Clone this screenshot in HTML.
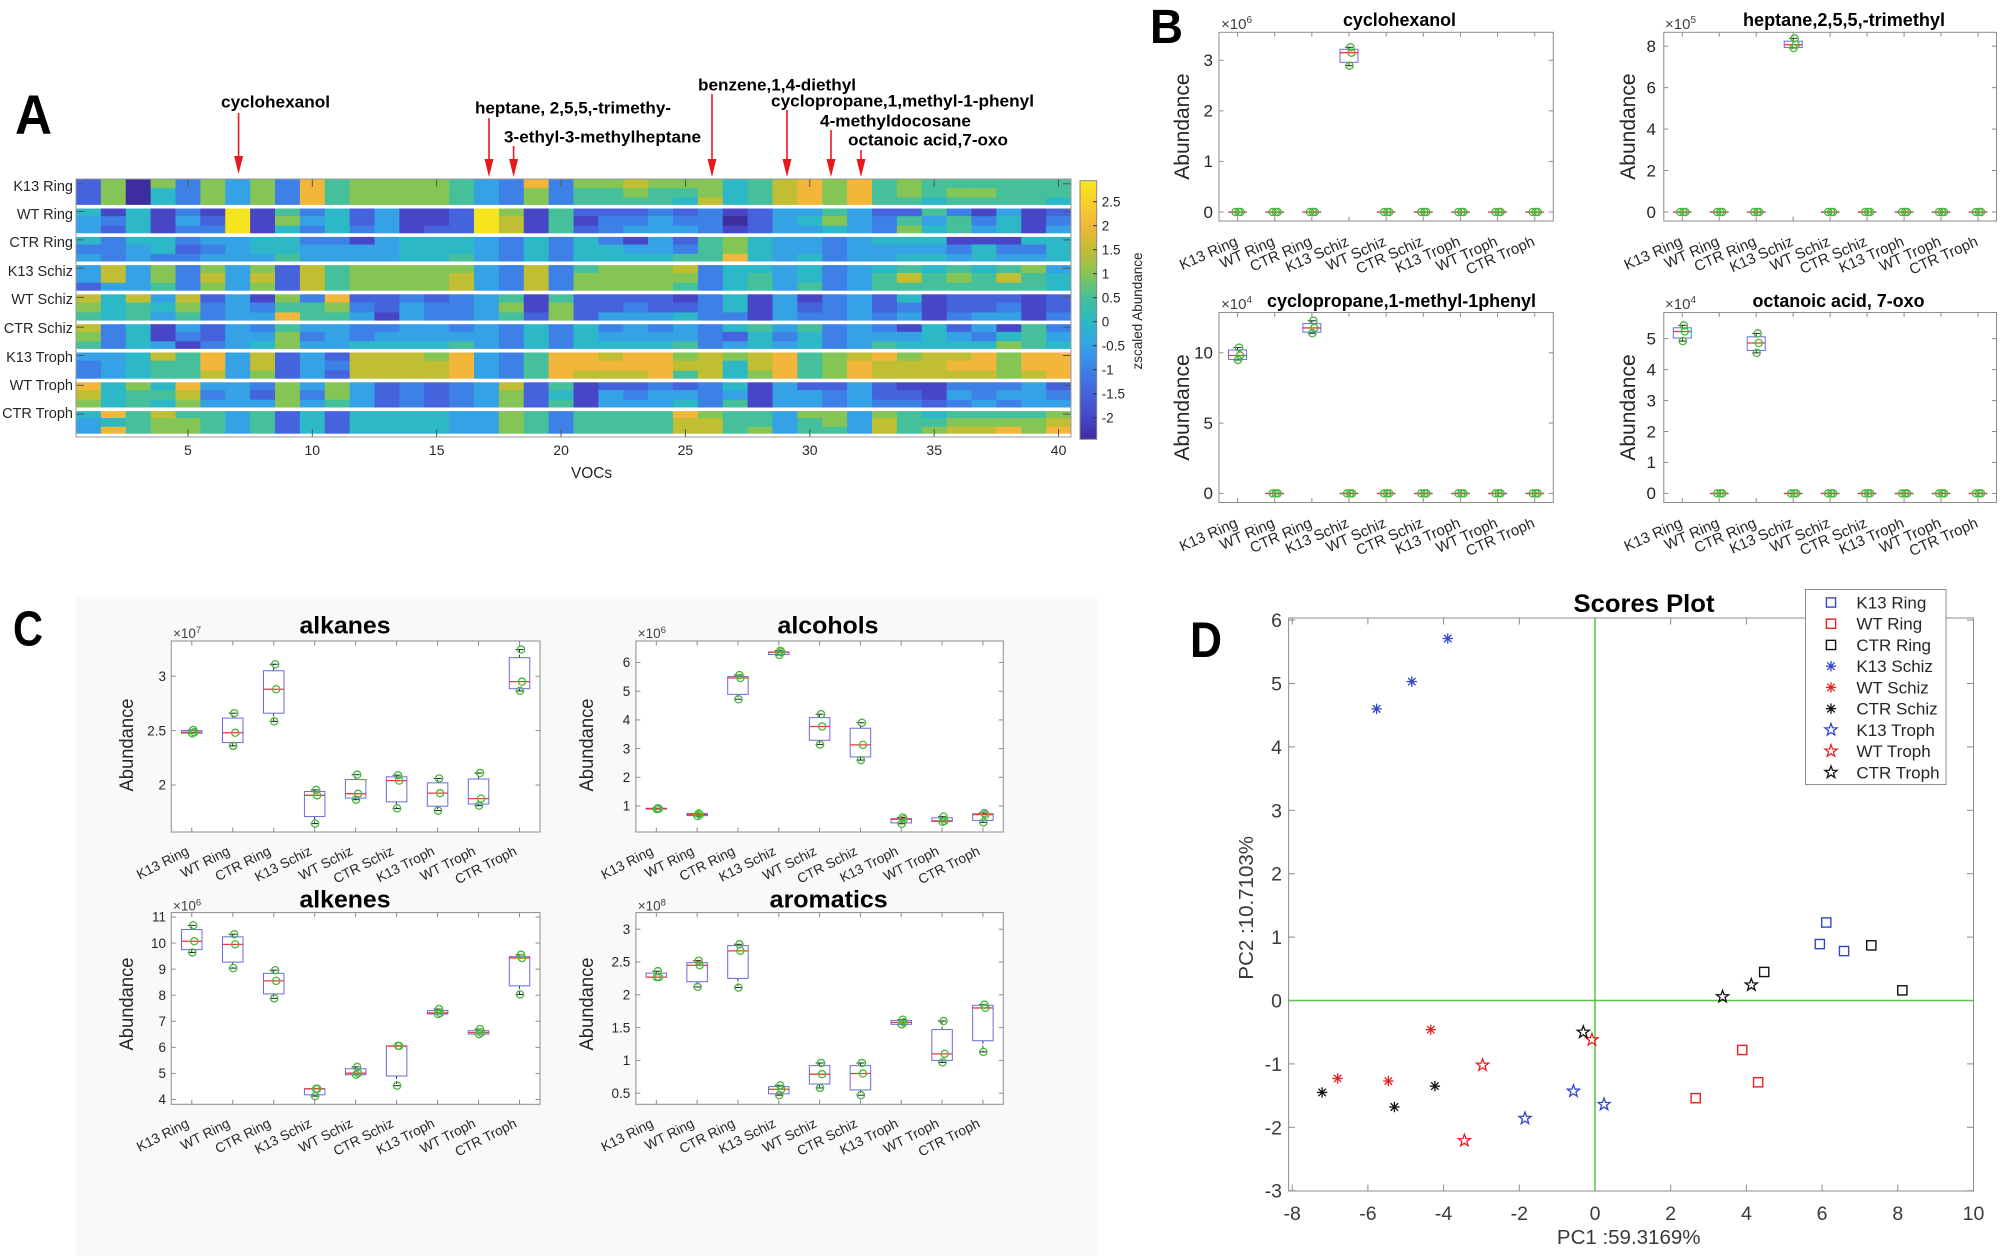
<!DOCTYPE html>
<html><head><meta charset="utf-8">
<style>
html,body{margin:0;padding:0;background:#fff;}
svg{display:block;}
text{font-family:"Liberation Sans",Arial,sans-serif;}
.bd{font-weight:bold;fill:#000;}
.rl{font-size:14.5px;fill:#262626;}
.xt{font-size:14px;fill:#262626;}
.cbt{font-size:13.5px;fill:#262626;}
.bt{font-size:17px;fill:#262626;}
.bx{font-size:15px;fill:#404040;}
.cb{font-size:15px;fill:#262626;}
.yl{font-size:21px;fill:#262626;}
.ct{font-size:13.5px;fill:#262626;}
.cc{font-size:13.7px;fill:#262626;}
.cy{font-size:19px;fill:#262626;}
.dt{font-size:19.5px;fill:#3a3a3a;}
.dl{font-size:17px;fill:#262626;}
</style></head><body>
<svg id="s" width="2000" height="1256" viewBox="0 0 2000 1256" xmlns="http://www.w3.org/2000/svg">
<defs>
<linearGradient id="cbg" x1="0" y1="0" x2="0" y2="1">
<stop offset="0" stop-color="#f6e81c"/>
<stop offset="0.082" stop-color="#f9d02a"/>
<stop offset="0.174" stop-color="#f2b73a"/>
<stop offset="0.267" stop-color="#c0be32"/>
<stop offset="0.360" stop-color="#85c556"/>
<stop offset="0.453" stop-color="#45c09a"/>
<stop offset="0.545" stop-color="#2cb8c6"/>
<stop offset="0.638" stop-color="#36a2e6"/>
<stop offset="0.731" stop-color="#3d80e6"/>
<stop offset="0.824" stop-color="#4563dc"/>
<stop offset="0.917" stop-color="#4646c6"/>
<stop offset="1" stop-color="#3d2d9e"/>
</linearGradient>
</defs>
<rect width="2000" height="1256" fill="#fff"/>
<rect x="76" y="597" width="1022" height="659" fill="#f9f9f9"/>
<g id="gfx"></g>

<!-- ============ PANEL A ============ -->
<text x="15" y="134" class="bd" font-size="56" textLength="37" lengthAdjust="spacingAndGlyphs">A</text>
<g class="bd" font-size="17">
<text x="221" y="107.5" textLength="109" lengthAdjust="spacingAndGlyphs">cyclohexanol</text>
<text x="475" y="113.5" textLength="196" lengthAdjust="spacingAndGlyphs">heptane, 2,5,5,-trimethy-</text>
<text x="504" y="142.5" textLength="197" lengthAdjust="spacingAndGlyphs">3-ethyl-3-methylheptane</text>
<text x="698" y="90.5" textLength="158" lengthAdjust="spacingAndGlyphs">benzene,1,4-diethyl</text>
<text x="771" y="106.5" textLength="263" lengthAdjust="spacingAndGlyphs">cyclopropane,1,methyl-1-phenyl</text>
<text x="820" y="126.5" textLength="151" lengthAdjust="spacingAndGlyphs">4-methyldocosane</text>
<text x="848" y="145.5" textLength="160" lengthAdjust="spacingAndGlyphs">octanoic acid,7-oxo</text>
</g>
<g stroke="#e41a1c" stroke-width="1.6">
<line x1="238.6" y1="113" x2="238.6" y2="160"/>
<line x1="489" y1="118" x2="489" y2="162"/>
<line x1="513.6" y1="146" x2="513.6" y2="162"/>
<line x1="712" y1="94" x2="712" y2="162"/>
<line x1="787" y1="110" x2="787" y2="162"/>
<line x1="831" y1="130" x2="831" y2="162"/>
<line x1="861" y1="150" x2="861" y2="162"/>
</g>
<g fill="#e41a1c">
<polygon points="234.1,156 243.1,156 238.6,174"/>
<polygon points="484.5,159 493.5,159 489,177"/>
<polygon points="509.1,159 518.1,159 513.6,177"/>
<polygon points="707.5,159 716.5,159 712,177"/>
<polygon points="782.5,159 791.5,159 787,177"/>
<polygon points="826.5,159 835.5,159 831,177"/>
<polygon points="856.5,159 865.5,159 861,177"/>
</g>
<g class="rl" text-anchor="end">
<text x="73" y="191">K13 Ring</text>
<text x="73" y="219">WT Ring</text>
<text x="73" y="247">CTR Ring</text>
<text x="73" y="276">K13 Schiz</text>
<text x="73" y="304">WT Schiz</text>
<text x="73" y="333">CTR Schiz</text>
<text x="73" y="362">K13 Troph</text>
<text x="73" y="390">WT Troph</text>
<text x="73" y="418">CTR Troph</text>
</g>
<g class="xt" text-anchor="middle">
<text x="187.9" y="455">5</text>
<text x="312.3" y="455">10</text>
<text x="436.7" y="455">15</text>
<text x="561.1" y="455">20</text>
<text x="685.4" y="455">25</text>
<text x="809.8" y="455">30</text>
<text x="934.2" y="455">35</text>
<text x="1058.6" y="455">40</text>
</g>
<text x="591.5" y="478" text-anchor="middle" font-size="15.4" fill="#262626">VOCs</text>
<rect x="1080" y="180.7" width="16.7" height="258.6" fill="url(#cbg)" stroke="#888" stroke-width="1"/>
<g stroke="#333" stroke-width="1">
<line x1="1093" y1="201.7" x2="1096.7" y2="201.7"/><line x1="1093" y1="225.7" x2="1096.7" y2="225.7"/>
<line x1="1093" y1="249.7" x2="1096.7" y2="249.7"/><line x1="1093" y1="273.7" x2="1096.7" y2="273.7"/>
<line x1="1093" y1="297.7" x2="1096.7" y2="297.7"/><line x1="1093" y1="321.7" x2="1096.7" y2="321.7"/>
<line x1="1093" y1="345.7" x2="1096.7" y2="345.7"/><line x1="1093" y1="369.7" x2="1096.7" y2="369.7"/>
<line x1="1093" y1="393.7" x2="1096.7" y2="393.7"/><line x1="1093" y1="417.7" x2="1096.7" y2="417.7"/>
</g>
<g class="cbt">
<text x="1101.7" y="206.4">2.5</text>
<text x="1101.7" y="230.4">2</text>
<text x="1101.7" y="254.4">1.5</text>
<text x="1101.7" y="278.4">1</text>
<text x="1101.7" y="302.4">0.5</text>
<text x="1101.7" y="326.4">0</text>
<text x="1101.7" y="350.4">-0.5</text>
<text x="1101.7" y="374.4">-1</text>
<text x="1101.7" y="398.4">-1.5</text>
<text x="1101.7" y="422.4">-2</text>
</g>
<text transform="translate(1142,311) rotate(-90)" text-anchor="middle" font-size="13.5" fill="#262626">zscaled Abundance</text>

<!-- ============ PANEL B ============ -->
<text x="1150" y="43" class="bd" font-size="48" textLength="33" lengthAdjust="spacingAndGlyphs">B</text>
<!-- TL -->
<text x="1399.5" y="26" class="bd" font-size="18" text-anchor="middle" textLength="113" lengthAdjust="spacingAndGlyphs">cyclohexanol</text>
<text x="1221" y="29" class="bx">×10<tspan dy="-6" font-size="10">6</tspan></text>
<g class="bt" text-anchor="end">
<text x="1213" y="217.8">0</text><text x="1213" y="167.2">1</text><text x="1213" y="116.7">2</text><text x="1213" y="66.1">3</text>
</g>
<text transform="translate(1189,126.6) rotate(-90)" text-anchor="middle" class="yl">Abundance</text>
<g class="cb" text-anchor="end">
<text transform="translate(1238.6,245) rotate(-24)">K13 Ring</text>
<text transform="translate(1275.7,245) rotate(-24)">WT Ring</text>
<text transform="translate(1312.9,245) rotate(-24)">CTR Ring</text>
<text transform="translate(1350.0,245) rotate(-24)">K13 Schiz</text>
<text transform="translate(1387.2,245) rotate(-24)">WT Schiz</text>
<text transform="translate(1424.3,245) rotate(-24)">CTR Schiz</text>
<text transform="translate(1461.4,245) rotate(-24)">K13 Troph</text>
<text transform="translate(1498.6,245) rotate(-24)">WT Troph</text>
<text transform="translate(1535.7,245) rotate(-24)">CTR Troph</text>
</g>
<!-- TR -->
<text x="1844" y="26" class="bd" font-size="18" text-anchor="middle" textLength="202" lengthAdjust="spacingAndGlyphs">heptane,2,5,5,-trimethyl</text>
<text x="1665" y="29" class="bx">×10<tspan dy="-6" font-size="10">5</tspan></text>
<g class="bt" text-anchor="end">
<text x="1656" y="217.8">0</text><text x="1656" y="176.3">2</text><text x="1656" y="134.9">4</text><text x="1656" y="93.4">6</text><text x="1656" y="52">8</text>
</g>
<text transform="translate(1635,126.6) rotate(-90)" text-anchor="middle" class="yl">Abundance</text>
<g class="cb" text-anchor="end">
<text transform="translate(1683.3,245) rotate(-24)">K13 Ring</text>
<text transform="translate(1720.3,245) rotate(-24)">WT Ring</text>
<text transform="translate(1757.2,245) rotate(-24)">CTR Ring</text>
<text transform="translate(1794.2,245) rotate(-24)">K13 Schiz</text>
<text transform="translate(1831.2,245) rotate(-24)">WT Schiz</text>
<text transform="translate(1868.1,245) rotate(-24)">CTR Schiz</text>
<text transform="translate(1905.1,245) rotate(-24)">K13 Troph</text>
<text transform="translate(1942.1,245) rotate(-24)">WT Troph</text>
<text transform="translate(1979.0,245) rotate(-24)">CTR Troph</text>
</g>
<!-- BL -->
<text x="1401.5" y="307" class="bd" font-size="18" text-anchor="middle" textLength="269" lengthAdjust="spacingAndGlyphs">cyclopropane,1-methyl-1phenyl</text>
<text x="1221" y="309" class="bx">×10<tspan dy="-6" font-size="10">4</tspan></text>
<g class="bt" text-anchor="end">
<text x="1213" y="499.2">0</text><text x="1213" y="428.9">5</text><text x="1213" y="358.6">10</text>
</g>
<text transform="translate(1189,407.5) rotate(-90)" text-anchor="middle" class="yl">Abundance</text>
<g class="cb" text-anchor="end">
<text transform="translate(1238.6,526.5) rotate(-24)">K13 Ring</text>
<text transform="translate(1275.7,526.5) rotate(-24)">WT Ring</text>
<text transform="translate(1312.9,526.5) rotate(-24)">CTR Ring</text>
<text transform="translate(1350.0,526.5) rotate(-24)">K13 Schiz</text>
<text transform="translate(1387.2,526.5) rotate(-24)">WT Schiz</text>
<text transform="translate(1424.3,526.5) rotate(-24)">CTR Schiz</text>
<text transform="translate(1461.4,526.5) rotate(-24)">K13 Troph</text>
<text transform="translate(1498.6,526.5) rotate(-24)">WT Troph</text>
<text transform="translate(1535.7,526.5) rotate(-24)">CTR Troph</text>
</g>
<!-- BR -->
<text x="1838.5" y="307" class="bd" font-size="18" text-anchor="middle" textLength="172" lengthAdjust="spacingAndGlyphs">octanoic acid, 7-oxo</text>
<text x="1665" y="309" class="bx">×10<tspan dy="-6" font-size="10">4</tspan></text>
<g class="bt" text-anchor="end">
<text x="1656" y="499.2">0</text><text x="1656" y="468.2">1</text><text x="1656" y="437.3">2</text><text x="1656" y="406.3">3</text><text x="1656" y="375.4">4</text><text x="1656" y="344.4">5</text>
</g>
<text transform="translate(1635,407.5) rotate(-90)" text-anchor="middle" class="yl">Abundance</text>
<g class="cb" text-anchor="end">
<text transform="translate(1683.3,526.5) rotate(-24)">K13 Ring</text>
<text transform="translate(1720.3,526.5) rotate(-24)">WT Ring</text>
<text transform="translate(1757.2,526.5) rotate(-24)">CTR Ring</text>
<text transform="translate(1794.2,526.5) rotate(-24)">K13 Schiz</text>
<text transform="translate(1831.2,526.5) rotate(-24)">WT Schiz</text>
<text transform="translate(1868.1,526.5) rotate(-24)">CTR Schiz</text>
<text transform="translate(1905.1,526.5) rotate(-24)">K13 Troph</text>
<text transform="translate(1942.1,526.5) rotate(-24)">WT Troph</text>
<text transform="translate(1979.0,526.5) rotate(-24)">CTR Troph</text>
</g>

<!-- ============ PANEL C ============ -->
<text x="13" y="645.5" class="bd" font-size="49" textLength="30" lengthAdjust="spacingAndGlyphs">C</text>
<!-- alkanes -->
<text x="345" y="633.7" class="bd" font-size="24.5" text-anchor="middle" textLength="91" lengthAdjust="spacingAndGlyphs">alkanes</text>
<text x="173" y="638" font-size="13.5" fill="#404040">×10<tspan dy="-5" font-size="9.5">7</tspan></text>
<g class="ct" text-anchor="end">
<text x="166" y="789.7">2</text><text x="166" y="735.3">2.5</text><text x="166" y="680.9">3</text>
</g>
<text transform="translate(133,745) rotate(-90)" text-anchor="middle" class="cy" textLength="93" lengthAdjust="spacingAndGlyphs">Abundance</text>
<g class="cc" text-anchor="end">
<text transform="translate(189.8,854) rotate(-27)">K13 Ring</text>
<text transform="translate(230.8,854) rotate(-27)">WT Ring</text>
<text transform="translate(271.7,854) rotate(-27)">CTR Ring</text>
<text transform="translate(312.7,854) rotate(-27)">K13 Schiz</text>
<text transform="translate(353.7,854) rotate(-27)">WT Schiz</text>
<text transform="translate(394.6,854) rotate(-27)">CTR Schiz</text>
<text transform="translate(435.6,854) rotate(-27)">K13 Troph</text>
<text transform="translate(476.6,854) rotate(-27)">WT Troph</text>
<text transform="translate(517.6,854) rotate(-27)">CTR Troph</text>
</g>
<!-- alkenes -->
<text x="345" y="907.5" class="bd" font-size="24.5" text-anchor="middle" textLength="91" lengthAdjust="spacingAndGlyphs">alkenes</text>
<text x="173" y="910.4" font-size="13.5" fill="#404040">×10<tspan dy="-5" font-size="9.5">6</tspan></text>
<g class="ct" text-anchor="end">
<text x="166" y="1104.2">4</text><text x="166" y="1078.1">5</text><text x="166" y="1052.1">6</text><text x="166" y="1026">7</text>
<text x="166" y="999.9">8</text><text x="166" y="973.9">9</text><text x="166" y="947.8">10</text><text x="166" y="921.7">11</text>
</g>
<text transform="translate(133,1004) rotate(-90)" text-anchor="middle" class="cy" textLength="93" lengthAdjust="spacingAndGlyphs">Abundance</text>
<g class="cc" text-anchor="end">
<text transform="translate(189.8,1126.3) rotate(-27)">K13 Ring</text>
<text transform="translate(230.8,1126.3) rotate(-27)">WT Ring</text>
<text transform="translate(271.7,1126.3) rotate(-27)">CTR Ring</text>
<text transform="translate(312.7,1126.3) rotate(-27)">K13 Schiz</text>
<text transform="translate(353.7,1126.3) rotate(-27)">WT Schiz</text>
<text transform="translate(394.6,1126.3) rotate(-27)">CTR Schiz</text>
<text transform="translate(435.6,1126.3) rotate(-27)">K13 Troph</text>
<text transform="translate(476.6,1126.3) rotate(-27)">WT Troph</text>
<text transform="translate(517.6,1126.3) rotate(-27)">CTR Troph</text>
</g>
<!-- alcohols -->
<text x="828" y="633.7" class="bd" font-size="24.5" text-anchor="middle" textLength="101" lengthAdjust="spacingAndGlyphs">alcohols</text>
<text x="637.7" y="638" font-size="13.5" fill="#404040">×10<tspan dy="-5" font-size="9.5">6</tspan></text>
<g class="ct" text-anchor="end">
<text x="630.3" y="810.7">1</text><text x="630.3" y="782">2</text><text x="630.3" y="753.3">3</text>
<text x="630.3" y="724.6">4</text><text x="630.3" y="695.9">5</text><text x="630.3" y="667.2">6</text>
</g>
<text transform="translate(593,745) rotate(-90)" text-anchor="middle" class="cy" textLength="93" lengthAdjust="spacingAndGlyphs">Abundance</text>
<g class="cc" text-anchor="end">
<text transform="translate(654.3,854) rotate(-27)">K13 Ring</text>
<text transform="translate(695.1,854) rotate(-27)">WT Ring</text>
<text transform="translate(735.9,854) rotate(-27)">CTR Ring</text>
<text transform="translate(776.8,854) rotate(-27)">K13 Schiz</text>
<text transform="translate(817.6,854) rotate(-27)">WT Schiz</text>
<text transform="translate(858.4,854) rotate(-27)">CTR Schiz</text>
<text transform="translate(899.2,854) rotate(-27)">K13 Troph</text>
<text transform="translate(940.0,854) rotate(-27)">WT Troph</text>
<text transform="translate(980.9,854) rotate(-27)">CTR Troph</text>
</g>
<!-- aromatics -->
<text x="828.7" y="907.5" class="bd" font-size="24.5" text-anchor="middle" textLength="118" lengthAdjust="spacingAndGlyphs">aromatics</text>
<text x="637.7" y="910.4" font-size="13.5" fill="#404040">×10<tspan dy="-5" font-size="9.5">8</tspan></text>
<g class="ct" text-anchor="end">
<text x="630.3" y="1097.9">0.5</text><text x="630.3" y="1065.1">1</text><text x="630.3" y="1032.3">1.5</text>
<text x="630.3" y="999.5">2</text><text x="630.3" y="966.7">2.5</text><text x="630.3" y="933.9">3</text>
</g>
<text transform="translate(593,1004) rotate(-90)" text-anchor="middle" class="cy" textLength="93" lengthAdjust="spacingAndGlyphs">Abundance</text>
<g class="cc" text-anchor="end">
<text transform="translate(654.3,1126.3) rotate(-27)">K13 Ring</text>
<text transform="translate(695.1,1126.3) rotate(-27)">WT Ring</text>
<text transform="translate(735.9,1126.3) rotate(-27)">CTR Ring</text>
<text transform="translate(776.8,1126.3) rotate(-27)">K13 Schiz</text>
<text transform="translate(817.6,1126.3) rotate(-27)">WT Schiz</text>
<text transform="translate(858.4,1126.3) rotate(-27)">CTR Schiz</text>
<text transform="translate(899.2,1126.3) rotate(-27)">K13 Troph</text>
<text transform="translate(940.0,1126.3) rotate(-27)">WT Troph</text>
<text transform="translate(980.9,1126.3) rotate(-27)">CTR Troph</text>
</g>

<!-- ============ PANEL D ============ -->
<text x="1190" y="657" class="bd" font-size="50" textLength="32" lengthAdjust="spacingAndGlyphs">D</text>
<text x="1644" y="612" class="bd" font-size="25" text-anchor="middle" textLength="141" lengthAdjust="spacingAndGlyphs">Scores Plot</text>
<g class="dt" text-anchor="end">
<text x="1282" y="627.1">6</text><text x="1282" y="690.5">5</text><text x="1282" y="753.9">4</text>
<text x="1282" y="817.3">3</text><text x="1282" y="880.7">2</text><text x="1282" y="944.1">1</text>
<text x="1282" y="1007.5">0</text><text x="1282" y="1070.9">-1</text><text x="1282" y="1134.3">-2</text>
<text x="1282" y="1197.7">-3</text>
</g>
<g class="dt" text-anchor="middle">
<text x="1292.2" y="1220">-8</text><text x="1367.9" y="1220">-6</text><text x="1443.6" y="1220">-4</text>
<text x="1519.3" y="1220">-2</text><text x="1595" y="1220">0</text><text x="1670.7" y="1220">2</text>
<text x="1746.4" y="1220">4</text><text x="1822.1" y="1220">6</text><text x="1897.8" y="1220">8</text>
<text x="1973.5" y="1220">10</text>
</g>
<text x="1628.7" y="1244" text-anchor="middle" font-size="20.5" fill="#3a3a3a">PC1 :59.3169%</text>
<text transform="translate(1253,907.8) rotate(-90)" text-anchor="middle" font-size="20.5" fill="#3a3a3a">PC2 :10.7103%</text>
<g class="dl">
<text x="1856.4" y="608.5">K13 Ring</text>
<text x="1856.4" y="629.7">WT Ring</text>
<text x="1856.4" y="651">CTR Ring</text>
<text x="1856.4" y="672.2">K13 Schiz</text>
<text x="1856.4" y="693.4">WT Schiz</text>
<text x="1856.4" y="714.6">CTR Schiz</text>
<text x="1856.4" y="735.9">K13 Troph</text>
<text x="1856.4" y="757.1">WT Troph</text>
<text x="1856.4" y="778.3">CTR Troph</text>
</g>
</svg>
<script>
(function(){
var NS='http://www.w3.org/2000/svg';
var G=document.getElementById('gfx');
function el(t,a){var e=document.createElementNS(NS,t);for(var k in a)e.setAttribute(k,a[k]);G.appendChild(e);return e;}

/* ---------- heatmap ---------- */
var R=[
"2707374739"+"6777764393"+"7787775689"+"7967666666",
"2705374739"+"6777764373"+"6676675689"+"7967677666",
"2705374739"+"6777764373"+"6666585689"+"7966566665",
"515131Y163"+"524112Y716"+"2223231244"+"6422631412",
"435142Y174"+"524112Y816"+"1334330245"+"7436463513",
"425133Y153"+"534122Y816"+"2344431244"+"5437564514",
"5355344553"+"3145554353"+"5314267544"+"3455511155",
"3345234554"+"4445554353"+"5544367544"+"3444435335",
"4343344464"+"4445564353"+"5555669545"+"3445545445",
"4847374728"+"6777774383"+"6777835545"+"3456565674",
"4847384828"+"6777784383"+"7777735645"+"3468676865",
"2446374728"+"6777784383"+"7777635646"+"3466666665",
"8584824173"+"9223234616"+"2222135141"+"3425122212",
"7565734366"+"7324334717"+"2232235142"+"3423122312",
"6564634496"+"6414334627"+"2444533143"+"3434134413",
"8351424364"+"4334434353"+"5343435646"+"3431524163",
"7351324473"+"4344444353"+"5444432535"+"3444543564",
"6354134574"+"4555564353"+"5555634545"+"3465555765",
"4458694824"+"2888794369"+"9899787896"+"7897889799",
"3456694824"+"3888894369"+"9999885896"+"7988899799",
"3456684724"+"2888894369"+"8889685796"+"7988888789",
"9575944374"+"7423234826"+"1223235142"+"2421133342",
"8566834273"+"7423234725"+"1434434144"+"3422143443",
"7565744474"+"6423234726"+"1444536144"+"3433234344",
"5968664625"+"2555544763"+"6666976647"+"7476566667",
"4567764625"+"2555544763"+"6666886646"+"7486677778",
"4967764625"+"2555544763"+"6666886746"+"6486788979"];
var C={'0':'#3d2d9e','1':'#4646c6','2':'#4563dc','3':'#3d80e6','4':'#36a2e6','5':'#2cb8c6','6':'#45c09a','7':'#85c556','8':'#c0be32','9':'#f2b73a','Y':'#f5e51f'};
var GB=[179,206.7,235.1,263.3,292.5,322.4,350.7,380.5,409.3,435.5];
var cw=24.875;
for(var g=0;g<9;g++){
  var h=(GB[g+1]-GB[g])/3;
  for(var s=0;s<3;s++){
    var row=R[g*3+s], y=GB[g]+s*h;
    for(var c=0;c<40;c++){
      el('rect',{x:76+c*cw,y:y,width:(c==39?cw:cw+0.6),height:h+0.6,fill:C[row.charAt(c)]});
    }
  }
}
for(var g=1;g<=9;g++){el('rect',{x:76,y:GB[g]-1.8,width:995,height:3.6,fill:'#fff'});}
el('rect',{x:76,y:437,width:995,height:2,fill:'#fff'});
for(var k=5;k<=40;k+=5){var x=76+(k-0.5)*cw;
  el('line',{x1:x,y1:179,x2:x,y2:187,stroke:'#555','stroke-width':1});
  el('line',{x1:x,y1:437,x2:x,y2:429,stroke:'#555','stroke-width':1});}
for(var g=0;g<9;g++){var y=GB[g]+4.8;
  el('line',{x1:76,y1:y,x2:84,y2:y,stroke:'#555','stroke-width':1});
  el('line',{x1:1071,y1:y,x2:1063,y2:y,stroke:'#555','stroke-width':1});}
el('rect',{x:76,y:179,width:995,height:258,fill:'none',stroke:'#999','stroke-width':1});

/* ---------- boxplots ---------- */
function ax(o){
  var x0=o.x0,x1=o.x1,y0=o.y0,y1=o.y1,st=(x1-x0)/9,F=o.f,tk='#8c8c8c';
  el('rect',{x:x0,y:y0,width:x1-x0,height:y1-y0,fill:'#fff'});
  o.yt.forEach(function(v){var y=F(v);
    el('line',{x1:x0,y1:y,x2:x0+4.5,y2:y,stroke:tk,'stroke-width':1});
    el('line',{x1:x1,y1:y,x2:x1-4.5,y2:y,stroke:tk,'stroke-width':1});});
  for(var i=0;i<9;i++){var x=x0+(i+.5)*st;
    el('line',{x1:x,y1:y1,x2:x,y2:y1-4.5,stroke:tk,'stroke-width':1});
    el('line',{x1:x,y1:y0,x2:x,y2:y0+4.5,stroke:tk,'stroke-width':1});}
  o.d.forEach(function(d,i){
    var cx=x0+(i+.5)*st,bw=o.bw,hw=bw/2,mn,q1,md,q3,mx;
    if(d===0){mn=q1=md=q3=mx=0;}else{mn=d[0];q1=d[1];md=d[2];q3=d[3];mx=d[4];}
    el('line',{x1:cx,y1:F(q3),x2:cx,y2:F(mx),stroke:'#000','stroke-width':.8,'stroke-dasharray':'3,2'});
    el('line',{x1:cx,y1:F(q1),x2:cx,y2:F(mn),stroke:'#000','stroke-width':.8,'stroke-dasharray':'3,2'});
    el('line',{x1:cx-4,y1:F(mx),x2:cx+4,y2:F(mx),stroke:'#222','stroke-width':1});
    el('line',{x1:cx-4,y1:F(mn),x2:cx+4,y2:F(mn),stroke:'#222','stroke-width':1});
    el('rect',{x:cx-hw,y:F(q3),width:bw,height:Math.max(F(q1)-F(q3),0.3),fill:'none',stroke:'#6a6ae0','stroke-width':1});
    el('line',{x1:cx-hw,y1:F(md),x2:cx+hw,y2:F(md),stroke:'#ee3a3a','stroke-width':1.3});
    var pts=[mx,md,mn],jit=(d===0?[-2,1,3]:[1.5,2.5,0.5]);
    pts.forEach(function(p,k){el('circle',{cx:cx+jit[k],cy:F(p),r:3.6,fill:'none',stroke:'#46b83c','stroke-width':1.3});});
  });
  el('rect',{x:x0,y:y0,width:x1-x0,height:y1-y0,fill:'none',stroke:tk,'stroke-width':1});
}
var z=0;
/* Panel B */
ax({x0:1219,x1:1553.3,y0:32.3,y1:221,bw:18,yt:[0,1,2,3],f:function(v){return 212-50.57*v;},
  d:[z,z,z,[2.893,2.96,3.15,3.217,3.257],z,z,z,z,z]});
ax({x0:1663.8,x1:1996.5,y0:32.3,y1:221,bw:18,yt:[0,2,4,6,8],f:function(v){return 212-20.73*v;},
  d:[z,z,z,[7.91,7.94,8.07,8.24,8.38],z,z,z,z,z]});
ax({x0:1219,x1:1553.3,y0:312.5,y1:502.5,bw:18,yt:[0,5,10],f:function(v){return 493.4-14.06*v;},
  d:[[9.49,9.53,9.81,10.2,10.37],z,[11.39,11.47,11.77,12.08,12.28],z,z,z,z,z,z]});
ax({x0:1663.8,x1:1996.5,y0:312.5,y1:502.5,bw:18,yt:[0,1,2,3,4,5],f:function(v){return 493.4-30.95*v;},
  d:[[4.92,5.02,5.23,5.35,5.43],z,[4.54,4.62,4.86,5.06,5.17],z,z,z,z,z,z]});
/* Panel C */
ax({x0:171.3,x1:540,y0:641,y1:832,bw:20.5,yt:[2,2.5,3],f:function(v){return 785-108.8*(v-2);},
  d:[[2.475,2.477,2.485,2.50,2.505],[2.36,2.39,2.48,2.615,2.66],[2.585,2.66,2.88,3.05,3.11],
     [1.645,1.71,1.905,1.94,1.955],[1.865,1.88,1.92,2.05,2.095],[1.785,1.845,2.04,2.075,2.09],
     [1.765,1.805,1.925,2.02,2.06],[1.81,1.825,1.875,2.055,2.11],[2.865,2.885,2.95,3.17,3.245]]});
ax({x0:171.3,x1:540,y0:912.6,y1:1104.3,bw:20.5,yt:[4,5,6,7,8,9,10,11],f:function(v){return 1099.5-26.07*(v-4);},
  d:[[9.64,9.75,10.07,10.52,10.68],[9.04,9.27,9.95,10.24,10.34],[7.88,8.05,8.55,8.84,8.96],
     [4.13,4.18,4.41,4.41,4.41],[4.95,4.95,5.01,5.18,5.25],[4.53,4.9,6.05,6.05,6.06],
     [7.28,7.28,7.32,7.41,7.47],[6.51,6.51,6.57,6.64,6.70],[8.03,8.36,9.43,9.48,9.55]]});
ax({x0:635.9,x1:1003.3,y0:641,y1:832,bw:20.5,yt:[1,2,3,4,5,6],f:function(v){return 806-28.7*(v-1);},
  d:[[0.89,0.89,0.91,0.92,0.92],[0.65,0.665,0.70,0.74,0.74],[4.72,4.89,5.46,5.51,5.56],
     [6.26,6.28,6.36,6.37,6.41],[3.14,3.29,3.77,4.08,4.2],[2.6,2.71,3.13,3.71,3.9],
     [0.38,0.41,0.54,0.56,0.6],[0.45,0.46,0.48,0.59,0.63],[0.43,0.50,0.70,0.73,0.755]]});
ax({x0:635.9,x1:1003.3,y0:912.6,y1:1104.3,bw:20.5,yt:[0.5,1,1.5,2,2.5,3],f:function(v){return 1093.2-65.6*(v-0.5);},
  d:[[2.27,2.27,2.27,2.33,2.36],[2.12,2.20,2.45,2.49,2.52],[2.11,2.25,2.67,2.75,2.77],
     [0.47,0.49,0.56,0.60,0.62],[0.58,0.64,0.79,0.92,0.96],[0.47,0.55,0.80,0.92,0.96],
     [1.55,1.55,1.58,1.61,1.62],[0.97,1.0,1.10,1.47,1.60],[1.13,1.30,1.80,1.84,1.85]]});

/* ---------- Panel D ---------- */
var X=function(v){return 1595+37.85*v;}, Y=function(v){return 1000.5-63.4*v;};
var dx0=1288.6,dx1=1973.5,dy0=618,dy1=1191;
el('rect',{x:dx0,y:dy0,width:dx1-dx0,height:dy1-dy0,fill:'#fff'});
for(var v=-8;v<=10;v+=2){var x=X(v);
  el('line',{x1:x,y1:dy1,x2:x,y2:dy1-6.5,stroke:'#8c8c8c','stroke-width':1});
  el('line',{x1:x,y1:dy0,x2:x,y2:dy0+6.5,stroke:'#8c8c8c','stroke-width':1});}
for(var v=-3;v<=6;v++){var y=Y(v);
  el('line',{x1:dx0,y1:y,x2:dx0+6.5,y2:y,stroke:'#8c8c8c','stroke-width':1});
  el('line',{x1:dx1,y1:y,x2:dx1-6.5,y2:y,stroke:'#8c8c8c','stroke-width':1});}
el('line',{x1:X(0),y1:dy0,x2:X(0),y2:dy1,stroke:'#55c440','stroke-width':1.5});
el('line',{x1:dx0,y1:Y(0),x2:dx1,y2:Y(0),stroke:'#55c440','stroke-width':1.5});
el('rect',{x:dx0,y:dy0,width:dx1-dx0,height:dy1-dy0,fill:'none',stroke:'#8c8c8c','stroke-width':1});
var BL='#3347c8',RD='#e52222',BK='#111';
function sq(x,y,c){el('rect',{x:x-4.6,y:y-4.6,width:9.2,height:9.2,fill:'none',stroke:c,'stroke-width':1.4});}
function as(x,y,c){var r=5.2,d=r*0.72;
  el('line',{x1:x-r,y1:y,x2:x+r,y2:y,stroke:c,'stroke-width':1.3});
  el('line',{x1:x,y1:y-r,x2:x,y2:y+r,stroke:c,'stroke-width':1.3});
  el('line',{x1:x-d,y1:y-d,x2:x+d,y2:y+d,stroke:c,'stroke-width':1.3});
  el('line',{x1:x-d,y1:y+d,x2:x+d,y2:y-d,stroke:c,'stroke-width':1.3});
  el('circle',{cx:x,cy:y,r:1.6,fill:c});}
function st(x,y,c){var p=[],Ro=6.4,Ri=2.6;
  for(var i=0;i<10;i++){var a=(-90+i*36)*Math.PI/180,r=(i%2?Ri:Ro);p.push((x+r*Math.cos(a)).toFixed(2)+','+(y+r*Math.sin(a)).toFixed(2));}
  el('polygon',{points:p.join(' '),fill:'none',stroke:c,'stroke-width':1.3,'stroke-linejoin':'miter'});}
var S=[
 [sq,BL,[[6.11,1.23],[5.94,0.89],[6.58,0.78]]],
 [sq,RD,[[3.89,-0.78],[4.31,-1.29],[2.66,-1.54]]],
 [sq,BK,[[7.30,0.87],[4.47,0.45],[8.12,0.16]]],
 [as,BL,[[-3.89,5.71],[-4.84,5.03],[-5.77,4.60]]],
 [as,RD,[[-4.34,-0.46],[-6.80,-1.23],[-5.46,-1.27]]],
 [as,BK,[[-7.21,-1.45],[-5.30,-1.68],[-4.23,-1.35]]],
 [st,BL,[[-0.57,-1.43],[-1.85,-1.86],[0.24,-1.64]]],
 [st,RD,[[-0.08,-0.62],[-2.97,-1.02],[-3.45,-2.21]]],
 [st,BK,[[4.13,0.245],[3.37,0.06],[-0.31,-0.50]]]];
S.forEach(function(s){s[2].forEach(function(p){s[0](X(p[0]),Y(p[1]),s[1]);});});
el('rect',{x:1805.5,y:589.5,width:140.5,height:195,fill:'#fff',stroke:'#8c8c8c','stroke-width':1});
S.forEach(function(s,i){s[0](1831,602.5+21.23*i,s[1]);});
})();
</script>
</body></html>
